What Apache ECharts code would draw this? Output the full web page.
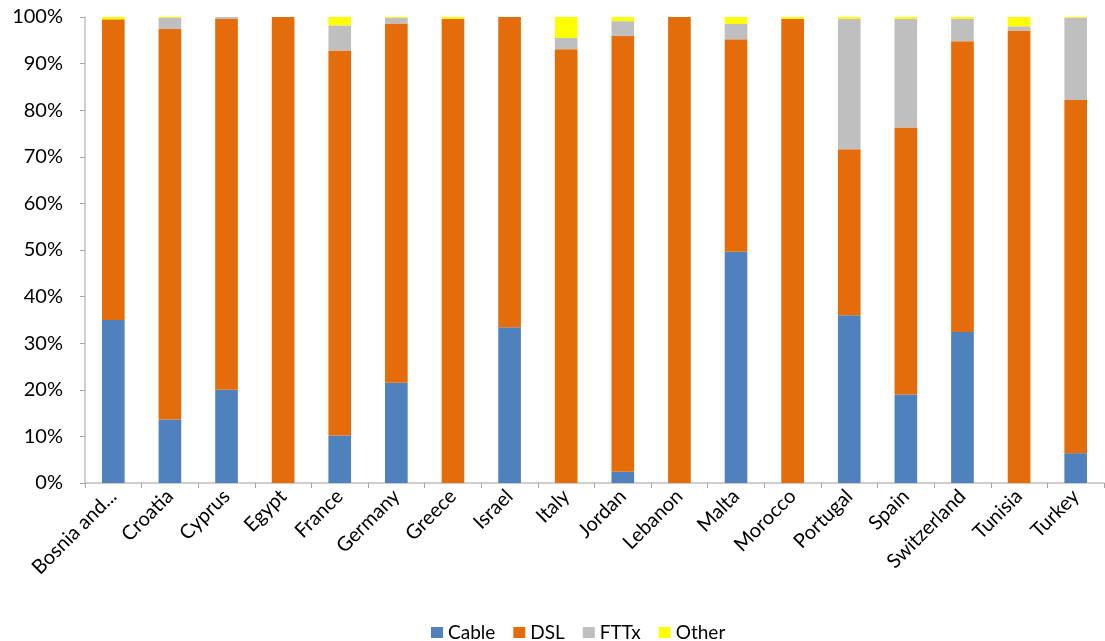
<!DOCTYPE html>
<html>
<head>
<meta charset="utf-8">
<script src="https://cdn.jsdelivr.net/npm/echarts@6/dist/echarts.min.js"></script>
<style>
html,body{margin:0;padding:0;background:#fff;}
#chart{width:1105px;height:641px;}
</style>
</head>
<body>
<div id="chart"></div>
<script>
const categories = ["Bosnia and...", "Croatia", "Cyprus", "Egypt", "France", "Germany", "Greece", "Israel", "Italy", "Jordan", "Lebanon", "Malta", "Morocco", "Portugal", "Spain", "Switzerland", "Tunisia", "Turkey"];
const cable = [35.0, 13.6, 20.0, 0, 10.2, 21.5, 0, 33.4, 0, 2.4, 0, 49.6, 0, 36.0, 19.0, 32.4, 0, 6.4];
const dsl   = [64.5, 83.8, 79.6, 100, 82.6, 77.1, 99.6, 66.6, 93.1, 93.5, 100, 45.6, 99.6, 35.6, 57.3, 62.4, 97.1, 75.8];
const fttx  = [0, 2.4, 0.4, 0, 5.4, 1.2, 0, 0, 2.4, 3.2, 0, 3.3, 0, 28.0, 23.3, 4.8, 0.9, 17.6];
const other = [0.5, 0.2, 0, 0, 1.8, 0.2, 0.4, 0, 4.5, 0.9, 0, 1.5, 0.4, 0.4, 0.4, 0.4, 2.0, 0.2];
const yTicks = [0, 10, 20, 30, 40, 50, 60, 70, 80, 90, 100];

const FONT = 'Lato';
const chart = echarts.init(document.getElementById('chart'), null, {renderer: 'canvas'});
const mk = (name, data, color) => ({
  name, type: 'bar', stack: 'total', data, barWidth: '40%',
  itemStyle: {color}, emphasis: {disabled: true}
});
chart.setOption({
  animation: false,
  textStyle: {fontFamily: FONT},
  grid: {left: 85, right: 1, top: 17, bottom: 158, containLabel: false},
  legend: {
    left: 426, top: 618, itemWidth: 12, itemHeight: 11, itemGap: 18,
    icon: 'rect',
    textStyle: {fontFamily: FONT, fontSize: 19, color: '#000'},
    data: ['Cable', 'DSL', 'FTTx', 'Other']
  },
  xAxis: {
    type: 'category', data: categories,
    axisLine: {lineStyle: {color: '#bfbfbf', width: 1.5}},
    axisTick: {show: true, length: 5, lineStyle: {color: '#a6a6a6'}},
    axisLabel: {rotate: 45, interval: 0, fontFamily: FONT, fontSize: 20, color: '#000', margin: 10}
  },
  yAxis: {
    type: 'value', min: 0, max: 100, interval: 10,
    axisLine: {show: true, lineStyle: {color: '#bfbfbf', width: 1.5}},
    axisTick: {show: true, length: 5, lineStyle: {color: '#a6a6a6'}},
    splitLine: {show: false},
    axisLabel: {fontFamily: FONT, fontSize: 20, color: '#000', margin: 22,
      formatter: v => yTicks.includes(v) ? v + '%' : ''}
  },
  series: [
    mk('Cable', cable, '#4F81BD'),
    mk('DSL', dsl, '#E46C0A'),
    mk('FTTx', fttx, '#BFBFBF'),
    mk('Other', other, '#FFFF00')
  ]
});
</script>
</body>
</html>
